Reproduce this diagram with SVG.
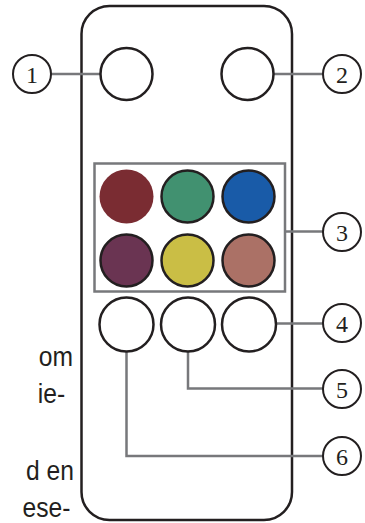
<svg xmlns="http://www.w3.org/2000/svg" width="365" height="523" viewBox="0 0 365 523">
  <style>
    .body { fill: #ffffff; stroke: #231f20; stroke-width: 2.5; }
    .btn { fill: #ffffff; stroke: #231f20; stroke-width: 2.5; }
    .key { stroke: #231f20; stroke-width: 2.5; }
    .panel { fill: none; stroke: #77787b; stroke-width: 2.5; }
    .conn { fill: none; stroke: #77787b; stroke-width: 2.5; }
    .callout { fill: #ffffff; stroke: #231f20; stroke-width: 2; }
    .num { font-family: "Liberation Serif", "DejaVu Serif", serif; font-size: 24px; fill: #231f20; text-anchor: middle; }
    .side { font-family: "Liberation Sans", Arial, sans-serif; font-size: 28px; fill: #231f20; text-anchor: end; }
  </style>

  <!-- running text from the neighbouring column (condensed sans) -->
  <g id="sidetext" transform="scale(0.88 1)">
    <text class="side" x="83" y="366">om</text>
    <text class="side" x="74" y="403">ie-</text>
    <text class="side" x="84" y="480">d en</text>
    <text class="side" x="80" y="517">ese-</text>
  </g>

  <!-- remote control housing -->
  <g id="remote">
    <rect class="body" x="81.5" y="6" width="210.5" height="514" rx="28" ry="28"/>
  </g>

  <!-- leader lines -->
  <g id="connectors">
    <line class="conn" x1="51" y1="74" x2="100.5" y2="74"/>
    <line class="conn" x1="274" y1="74" x2="323" y2="74"/>
    <line class="conn" x1="285" y1="231.5" x2="323" y2="231.5"/>
    <line class="conn" x1="276" y1="323.5" x2="323" y2="323.5"/>
    <path class="conn" d="M188 351.5 V388.5 H323"/>
    <path class="conn" d="M126.5 351.5 V456 H323"/>
  </g>

  <!-- top buttons -->
  <g id="button-power-left">
    <circle class="btn" cx="126.5" cy="74" r="26"/>
  </g>
  <g id="button-power-right">
    <circle class="btn" cx="247.5" cy="74" r="26"/>
  </g>

  <!-- colour keys -->
  <g id="colour-keys">
    <rect class="panel" x="94.5" y="163.5" width="190.5" height="128"/>
    <circle cx="126.5" cy="196.5" r="27" fill="#7a2c32"/>
    <circle class="key" cx="187.5" cy="196.5" r="26" fill="#419170"/>
    <circle class="key" cx="248.5" cy="196.5" r="26" fill="#195ba8"/>
    <circle class="key" cx="126.5" cy="260.5" r="26" fill="#6a3452"/>
    <circle class="key" cx="187.5" cy="260.5" r="26" fill="#cabe45"/>
    <circle class="key" cx="248.5" cy="260.5" r="26" fill="#ab7166"/>
  </g>

  <!-- bottom buttons -->
  <g id="button-a">
    <circle class="btn" cx="126.5" cy="324.5" r="27"/>
  </g>
  <g id="button-b">
    <circle class="btn" cx="188" cy="324.5" r="27"/>
  </g>
  <g id="button-c">
    <circle class="btn" cx="249" cy="324.5" r="27"/>
  </g>

  <!-- numbered callouts -->
  <g id="callout-1">
    <circle class="callout" cx="32" cy="74" r="19"/>
    <text class="num" x="32" y="82.5">1</text>
  </g>
  <g id="callout-2">
    <circle class="callout" cx="342" cy="74" r="19"/>
    <text class="num" x="342" y="82.5">2</text>
  </g>
  <g id="callout-3">
    <circle class="callout" cx="342" cy="232" r="19"/>
    <text class="num" x="342" y="240.5">3</text>
  </g>
  <g id="callout-4">
    <circle class="callout" cx="342" cy="323" r="19"/>
    <text class="num" x="342" y="331.5">4</text>
  </g>
  <g id="callout-5">
    <circle class="callout" cx="342" cy="389" r="19"/>
    <text class="num" x="342" y="397.5">5</text>
  </g>
  <g id="callout-6">
    <circle class="callout" cx="342" cy="456" r="19"/>
    <text class="num" x="342" y="464.5">6</text>
  </g>
</svg>
